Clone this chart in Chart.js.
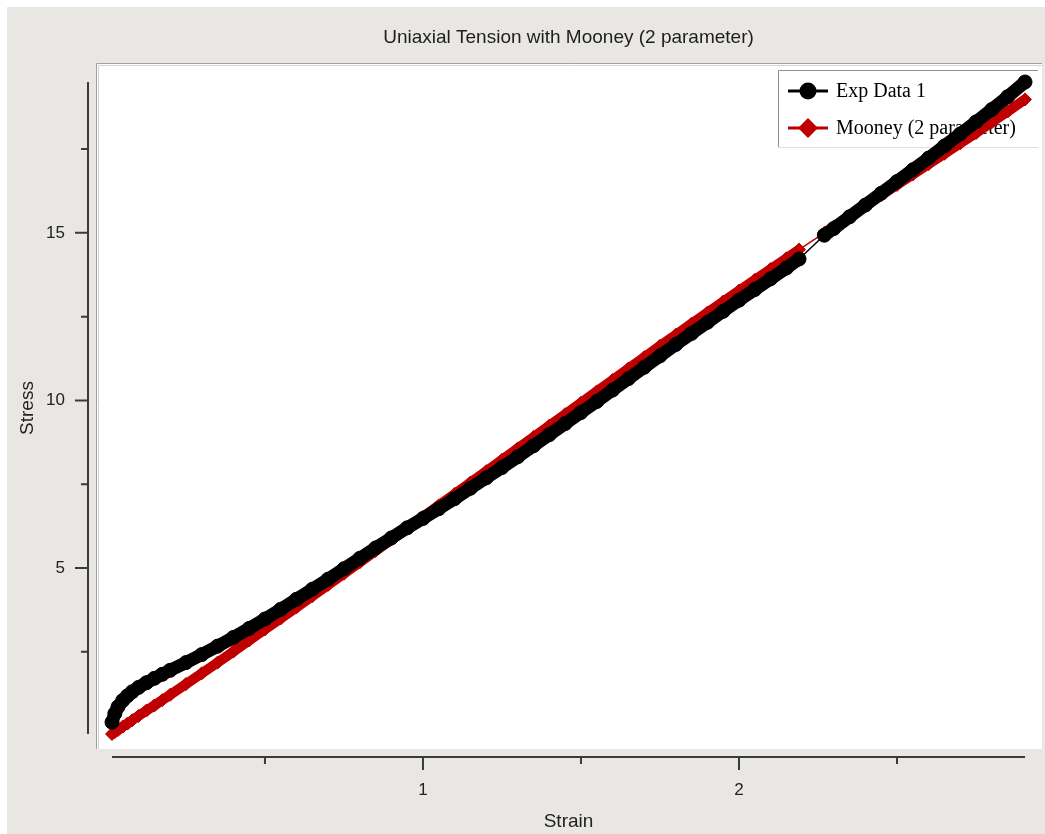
<!DOCTYPE html>
<html>
<head>
<meta charset="utf-8">
<script src="https://cdn.jsdelivr.net/npm/chart.js@4/dist/chart.umd.min.js"></script>
<style>
    html, body { margin: 0; padding: 0; background: #fff; }
    #wrap { width: 1045px; height: 834px; position: relative; }
</style>
</head>
<body>
<div id="wrap"><canvas id="chart"></canvas></div>
<script>
// --- DATA ---
const chartTitle = 'Uniaxial Tension with Mooney (2 parameter)';
const seriesNames = ['Exp Data 1', 'Mooney (2 parameter)'];

const strain = [
    0.016, 0.025, 0.035, 0.05, 0.065, 0.08, 0.1, 0.125, 0.15, 0.175, 0.2,
    0.25, 0.3, 0.35, 0.4, 0.45, 0.5, 0.55, 0.6, 0.65, 0.7, 0.75, 0.8, 0.85, 0.9, 0.95, 1.0,
    1.05, 1.1, 1.15, 1.2, 1.25, 1.3, 1.35, 1.4, 1.45, 1.5, 1.55, 1.6, 1.65, 1.7, 1.75, 1.8,
    1.85, 1.9, 1.95, 2.0, 2.05, 2.1, 2.15, 2.19,
    2.27, 2.3, 2.35, 2.4, 2.45, 2.5, 2.55, 2.6, 2.65, 2.7, 2.75, 2.8, 2.85, 2.905
];
const expStress = [
    0.40, 0.66, 0.86, 1.05, 1.19, 1.31, 1.44, 1.58, 1.71, 1.83, 1.95,
    2.18, 2.42, 2.67, 2.93, 3.20, 3.48, 3.77, 4.07, 4.37, 4.67, 4.98, 5.29, 5.60, 5.90, 6.20, 6.48,
    6.77, 7.07, 7.38, 7.69, 8.00, 8.32, 8.65, 8.98, 9.31, 9.64, 9.97, 10.31, 10.65, 10.99, 11.33, 11.67,
    12.00, 12.33, 12.66, 12.99, 13.31, 13.63, 13.95, 14.22,
    14.93, 15.13, 15.48, 15.83, 16.18, 16.53, 16.88, 17.23, 17.59, 17.95, 18.31, 18.68, 19.06, 19.50
];
const mooneyStress = [
    0.05, 0.11, 0.17, 0.27, 0.36, 0.46, 0.59, 0.75, 0.90, 1.06, 1.22,
    1.54, 1.86, 2.18, 2.51, 2.84, 3.17, 3.50, 3.83, 4.16, 4.50, 4.83, 5.17, 5.51, 5.85, 6.19, 6.53,
    6.87, 7.21, 7.55, 7.89, 8.23, 8.57, 8.91, 9.25, 9.59, 9.93, 10.27, 10.61, 10.95, 11.29, 11.63, 11.96,
    12.29, 12.62, 12.95, 13.28, 13.60, 13.92, 14.24, 14.50,
    15.00, 15.19, 15.50, 15.81, 16.12, 16.43, 16.74, 17.05, 17.36, 17.67, 17.98, 18.30, 18.62, 18.98
];

const xMajor = [1, 2];
const xMinor = [0.5, 1.5, 2.5];
const yMajor = [5, 10, 15];
const yMinor = [2.5, 7.5, 12.5, 17.5];
const xRange = [0.016, 2.905];
const yRange = [0.05, 19.5];

const EXP_COLOR = '#000000';
const FIT_COLOR = '#c00000';
const BG_GRAY = '#e8e7e3';
const AXIS_COLOR = '#3a3a3a';

// thick band, thin connector where the data has a hole
const bandWidth = (w) => (c) => (c.p1.parsed.x - c.p0.parsed.x > 0.06 ? 1.5 : w);

// --- background, axes, legend (drawn like the old Windows plot control) ---
const framePlugin = {
    id: 'frame',
    beforeDraw(chart) {
        const { ctx, chartArea: a, width, height } = chart;
        ctx.save();
        ctx.fillStyle = '#ffffff';
        ctx.fillRect(0, 0, width, height);
        ctx.fillStyle = BG_GRAY;
        ctx.fillRect(7, 7, width - 7, height - 7);

        // white plot panel
        const px = a.left - 16, py = a.top - 19;
        const pr = a.right + 17, pb = a.bottom + 15;
        ctx.fillStyle = '#ffffff';
        ctx.fillRect(px, py, pr - px, pb - py);
        ctx.lineWidth = 1;
        ctx.strokeStyle = '#a0a0a0';
        ctx.beginPath();
        ctx.moveTo(px + 0.5, pb); ctx.lineTo(px + 0.5, py + 0.5); ctx.lineTo(pr, py + 0.5);
        ctx.stroke();
        ctx.strokeStyle = '#d4d4d4';
        ctx.beginPath();
        ctx.moveTo(px + 2.5, pb); ctx.lineTo(px + 2.5, py + 2.5); ctx.lineTo(pr, py + 2.5);
        ctx.stroke();

        // title
        ctx.fillStyle = '#1e1e1e';
        ctx.font = '19px "Liberation Sans", Arial, sans-serif';
        ctx.textAlign = 'center';
        ctx.textBaseline = 'middle';
        ctx.fillText(chartTitle, (a.left + a.right) / 2, 38);
        ctx.restore();
    },
    beforeDatasetsDraw(chart) {
        const { ctx, chartArea: a, scales } = chart;
        const xs = scales.x, ys = scales.y;
        const axX = a.left - 24;   // y axis line sits left of the data
        const axY = a.bottom + 23; // x axis line sits below the data
        ctx.save();
        ctx.strokeStyle = AXIS_COLOR;
        ctx.lineWidth = 2;
        ctx.beginPath();
        ctx.moveTo(axX, a.top); ctx.lineTo(axX, a.bottom);
        ctx.moveTo(a.left, axY); ctx.lineTo(a.right, axY);
        ctx.stroke();

        ctx.lineWidth = 2;
        ctx.beginPath();
        yMajor.forEach(v => { const p = ys.getPixelForValue(v); ctx.moveTo(axX - 13, p); ctx.lineTo(axX, p); });
        yMinor.forEach(v => { const p = ys.getPixelForValue(v); ctx.moveTo(axX - 7, p); ctx.lineTo(axX, p); });
        xMajor.forEach(v => { const p = xs.getPixelForValue(v); ctx.moveTo(p, axY); ctx.lineTo(p, axY + 13); });
        xMinor.forEach(v => { const p = xs.getPixelForValue(v); ctx.moveTo(p, axY); ctx.lineTo(p, axY + 7); });
        ctx.stroke();

        // legend box (data is drawn over it, as in the original)
        const lx = a.right - 247, ly = a.top - 12, lw = 260, lh = 78;
        ctx.fillStyle = '#ffffff';
        ctx.fillRect(lx, ly, lw, lh);
        ctx.lineWidth = 1;
        ctx.strokeStyle = '#909090';
        ctx.beginPath();
        ctx.moveTo(lx + 0.5, ly + lh); ctx.lineTo(lx + 0.5, ly + 0.5); ctx.lineTo(lx + lw, ly + 0.5);
        ctx.stroke();
        ctx.strokeStyle = '#dedede';
        ctx.beginPath();
        ctx.moveTo(lx, ly + lh - 0.5); ctx.lineTo(lx + lw, ly + lh - 0.5);
        ctx.stroke();

        chart.data.datasets.forEach((ds, i) => {
            const cy = ly + 21 + i * 37;
            const mx = lx + 30;
            ctx.strokeStyle = ds.borderColor;
            ctx.fillStyle = ds.borderColor;
            ctx.lineWidth = 3;
            ctx.beginPath();
            ctx.moveTo(lx + 10, cy); ctx.lineTo(lx + 50, cy);
            ctx.stroke();
            ctx.beginPath();
            if (ds.pointStyle === 'rectRot') {
                ctx.moveTo(mx, cy - 10); ctx.lineTo(mx + 10, cy); ctx.lineTo(mx, cy + 10); ctx.lineTo(mx - 10, cy);
                ctx.closePath();
            } else {
                ctx.arc(mx, cy, 8.5, 0, Math.PI * 2);
            }
            ctx.fill();
            ctx.fillStyle = '#000';
            ctx.font = '20px "Liberation Serif", "Times New Roman", serif';
            ctx.textAlign = 'left';
            ctx.textBaseline = 'middle';
            ctx.fillText(ds.label, lx + 58, cy + 1);
        });
        ctx.restore();
    }
};

function setTicks(major, minor) {
    return (scale) => {
        scale.ticks = major.concat(minor).sort((p, q) => p - q).map(v => ({ value: v }));
    };
}

const ctx = document.getElementById('chart').getContext('2d');
new Chart(ctx, {
    type: 'scatter',
    data: {
        datasets: [{
            label: seriesNames[0],
            data: strain.map((x, i) => ({ x: x, y: expStress[i] })),
            showLine: true,
            borderColor: EXP_COLOR,
            backgroundColor: EXP_COLOR,
            borderWidth: 13,
            borderJoinStyle: 'round',
            borderCapStyle: 'round',
            segment: { borderWidth: bandWidth(13) },
            pointStyle: 'circle',
            pointRadius: 7,
            pointBorderWidth: 1,
            clip: false
        }, {
            label: seriesNames[1],
            data: strain.map((x, i) => ({ x: x, y: mooneyStress[i] })),
            showLine: true,
            borderColor: FIT_COLOR,
            backgroundColor: FIT_COLOR,
            borderWidth: 10,
            borderJoinStyle: 'round',
            borderCapStyle: 'butt',
            segment: { borderWidth: bandWidth(10) },
            pointStyle: 'rectRot',
            pointRadius: 6.5,
            pointBorderWidth: 1,
            clip: false
        }]
    },
    options: {
        responsive: true,
        maintainAspectRatio: false,
        animation: false,
        events: [],
        layout: { padding: { top: 82, right: 20, left: 0, bottom: 0 } },
        plugins: {
            legend: { display: false },
            title: { display: false },
            tooltip: { enabled: false }
        },
        scales: {
            x: {
                type: 'linear',
                min: xRange[0],
                max: xRange[1],
                afterFit: (s) => { s.height = 100; },
                afterBuildTicks: setTicks(xMajor, xMinor),
                border: { display: false },
                grid: { drawOnChartArea: false, drawTicks: true, tickLength: 36, color: 'transparent' },
                ticks: {
                    autoSkip: false,
                    maxRotation: 0,
                    padding: 10,
                    color: '#222',
                    font: { family: '"Liberation Sans", Arial, sans-serif', size: 17 },
                    callback: (v) => (xMajor.includes(v) ? String(v) : '')
                },
                title: {
                    display: true,
                    text: 'Strain',
                    color: '#222',
                    font: { family: '"Liberation Sans", Arial, sans-serif', size: 19 },
                    padding: { top: 0, bottom: 1 }
                }
            },
            y: {
                type: 'linear',
                min: yRange[0],
                max: yRange[1],
                afterFit: (s) => { s.width = 112; },
                afterBuildTicks: setTicks(yMajor, yMinor),
                border: { display: false },
                grid: { drawOnChartArea: false, drawTicks: true, tickLength: 37, color: 'transparent' },
                ticks: {
                    autoSkip: false,
                    padding: 10,
                    color: '#222',
                    font: { family: '"Liberation Sans", Arial, sans-serif', size: 17 },
                    callback: (v) => (yMajor.includes(v) ? String(v) : '')
                },
                title: {
                    display: true,
                    text: 'Stress',
                    color: '#222',
                    font: { family: '"Liberation Sans", Arial, sans-serif', size: 19 },
                    padding: { top: 16, bottom: 0 }
                }
            }
        }
    },
    plugins: [framePlugin]
});
</script>
</body>
</html>
